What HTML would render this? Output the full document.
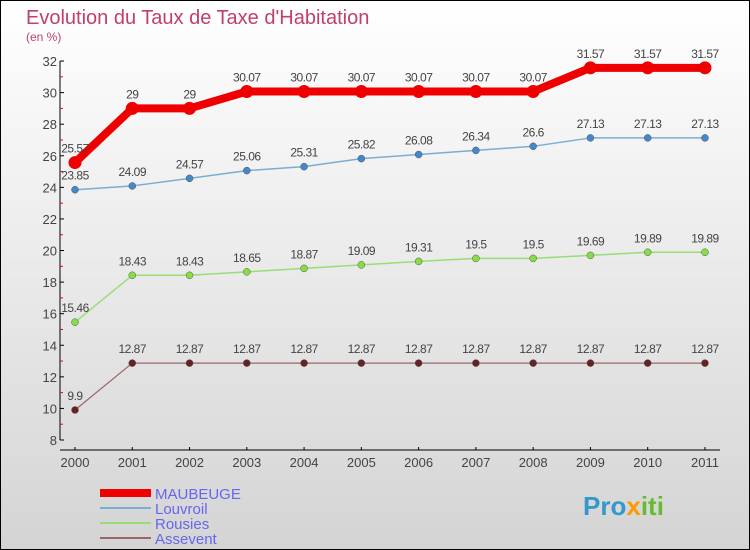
<!DOCTYPE html>
<html><head><meta charset="utf-8"><style>
body{margin:0}
#c{width:750px;height:550px;position:relative;overflow:hidden}
text{font-family:"Liberation Sans",sans-serif}
</style></head><body>
<div id="c">
<svg id="s" width="750" height="550" xmlns="http://www.w3.org/2000/svg">
<defs><linearGradient id="bg" x1="0" y1="0" x2="0" y2="1"><stop offset="0" stop-color="#ffffff"/><stop offset="1" stop-color="#d4d4d4"/></linearGradient></defs>
<rect x="0.5" y="0.5" width="749" height="549" fill="url(#bg)" stroke="#000"/>
<text x="26" y="24" font-size="20" fill="#c0406a">Evolution du Taux de Taxe d'Habitation</text>
<text x="26" y="41" font-size="12" fill="#c0406a">(en %)</text>
<g id="axes"></g><g id="series"></g>
<g>
<rect x="100" y="489" width="51" height="8" fill="#ee0000"/>
<text x="155" y="499" font-size="15" fill="#6666ee">MAUBEUGE</text>
<rect x="100" y="507" width="51" height="2" fill="#7aaed0"/>
<text x="155" y="514" font-size="15" fill="#6666ee">Louvroil</text>
<rect x="100" y="522" width="51" height="2" fill="#99dd77"/>
<text x="155" y="529" font-size="15" fill="#6666ee">Rousies</text>
<rect x="100" y="537" width="51" height="2" fill="#996666"/>
<text x="155" y="544" font-size="15" fill="#6666ee">Assevent</text>
</g>
<text x="583" y="515" font-size="26" font-weight="bold" fill="#3399cc">Pro<tspan fill="#ff9900">x</tspan><tspan fill="#66bb33">iti</tspan></text>
</svg></div>
<script>
const years=["2000","2001","2002","2003","2004","2005","2006","2007","2008","2009","2010","2011"];
const maubeuge=[25.57,29,29,30.07,30.07,30.07,30.07,30.07,30.07,31.57,31.57,31.57];
const louvroil=[23.85,24.09,24.57,25.06,25.31,25.82,26.08,26.34,26.6,27.13,27.13,27.13];
const rousies=[15.46,18.43,18.43,18.65,18.87,19.09,19.31,19.5,19.5,19.69,19.89,19.89];
const assevent=[9.9,12.87,12.87,12.87,12.87,12.87,12.87,12.87,12.87,12.87,12.87,12.87];
const yTicks=[8,10,12,14,16,18,20,22,24,26,28,30,32];
const NS="http://www.w3.org/2000/svg";
const X=i=>75+i*57.27, Y=v=>440-(v-8)*15.79;
function mk(p,t,a){const e=document.createElementNS(NS,t);for(const k in a)e.setAttribute(k,a[k]);p.appendChild(e);return e;}
const ax=document.getElementById('axes'), sg=document.getElementById('series');
let l=mk(ax,'line',{x1:60,y1:Y(32),x2:60,y2:Y(8),stroke:'#000'});


yTicks.forEach(v=>{
 mk(ax,'line',{x1:60,y1:Y(v),x2:64,y2:Y(v),stroke:'#000'});
 mk(ax,'line',{x1:60,y1:Y(v+1),x2:63,y2:Y(v+1),stroke:v<32?'#e00':'none'});
 const t=mk(ax,'text',{x:57,y:Y(v)+5,'font-size':13,'text-anchor':'end',fill:'#444'});t.textContent=v;
 
 
});
l=mk(ax,'line',{x1:60,y1:450,x2:720,y2:450,stroke:'#000'});


years.forEach((y,i)=>{
 mk(ax,'line',{x1:X(i),y1:447,x2:X(i),y2:450,stroke:'#000'});
 const t=mk(ax,'text',{x:X(i),y:467,'font-size':13,'text-anchor':'middle',fill:'#444'});t.textContent=y;
 
 
});
function series(d,name,col,w,r,dot){
 const g=mk(sg,'g',{});
 
 
 mk(g,'polyline',{points:d.map((v,i)=>X(i)+','+Y(v)).join(' '),fill:'none',stroke:col,'stroke-width':w,'stroke-linejoin':'round'});
 d.forEach((v,i)=>{
  const c=mk(g,'circle',{cx:X(i),cy:Y(v),r:r,fill:dot,stroke:col==='#ee0000'?'none':'#555','stroke-width':0.5});
  
  
  const t=mk(g,'text',{x:X(i),y:Y(v)-10,'font-size':12,'text-anchor':'middle',fill:'#444','letter-spacing':'-0.5'});t.textContent=v;
  
  
 });
}
series(assevent,'assevent','#996666',1.2,3.5,'#662222');
series(rousies,'rousies','#99dd77',1.5,3.5,'#88dd44');
series(louvroil,'louvroil','#7aaed0',1.5,3.5,'#4488cc');
series(maubeuge,'maubeuge','#ee0000',8,6.5,'#ee0000');
</script>
</body></html>
